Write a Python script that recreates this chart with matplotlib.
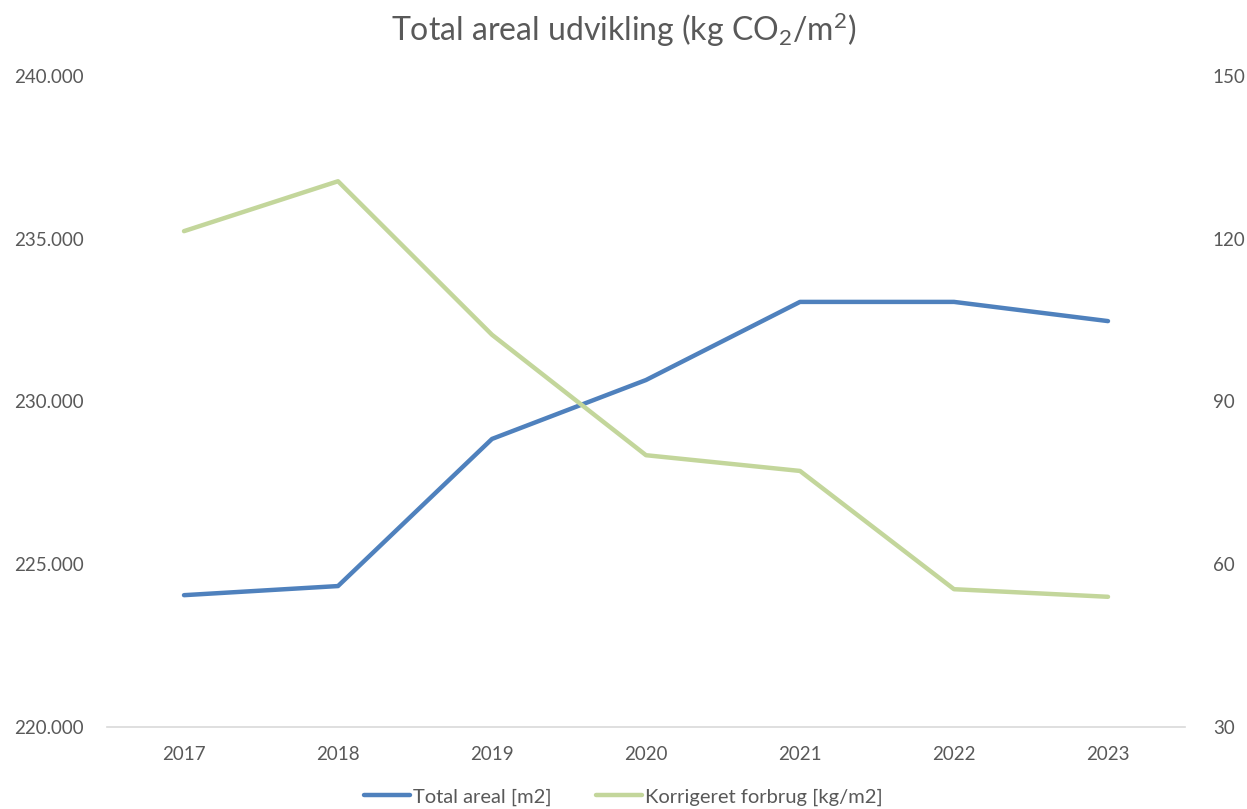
import matplotlib.pyplot as plt
from matplotlib.ticker import FuncFormatter

plt.rcParams['font.family'] = ['Lato', 'DejaVu Sans']
plt.rcParams['mathtext.fontset'] = 'custom'
plt.rcParams['mathtext.rm'] = 'Lato'
plt.rcParams['mathtext.it'] = 'Lato'

years = ['2017', '2018', '2019', '2020', '2021', '2022', '2023']
total_areal = [224050, 224330, 228850, 230660, 233060, 233060, 232470]
korrigeret_forbrug = [121.4, 130.6, 102.3, 80.1, 77.2, 55.4, 54.0]

blue = '#4F81BD'
green = '#C3D69B'
grey = '#595959'

fig = plt.figure(figsize=(12.47, 8.09), dpi=100)
ax = fig.add_axes([107 / 1247, 1 - 727 / 809, (1185 - 107) / 1247, (727 - 76) / 809])
ax2 = ax.twinx()

x = list(range(len(years)))
l1, = ax.plot(x, total_areal, color=blue, lw=3.2, solid_capstyle='round', label='Total areal [m2]')
l2, = ax2.plot(x, korrigeret_forbrug, color=green, lw=3.2, solid_capstyle='round',
               label='Korrigeret forbrug [kg/m2]')

ax.set_xlim(-0.5, 6.5)
ax.set_ylim(220000, 240000)
ax.set_yticks([220000, 225000, 230000, 235000, 240000])
ax.yaxis.set_major_formatter(FuncFormatter(lambda v, p: f"{v:,.0f}".replace(',', '.')))
ax2.set_ylim(30, 150)
ax2.set_yticks([30, 60, 90, 120, 150])
ax.set_xticks(x)
ax.set_xticklabels(years)

for a in (ax, ax2):
    for s in a.spines.values():
        s.set_visible(False)
    a.tick_params(length=0, labelsize=13.5, colors=grey)
ax.spines['bottom'].set_visible(True)
ax.spines['bottom'].set_color('#D9D9D9')
ax.spines['bottom'].set_linewidth(1.2)
ax.tick_params(axis='y', pad=17)
ax2.tick_params(axis='y', pad=20)
ax.tick_params(axis='x', pad=14)

fig.text(0.5, 1 - 30 / 809, r'Total areal udvikling (kg CO$_2$/m$^2$)', ha='center', va='center',
         fontsize=23, color=grey)

fig.legend(handles=[l1, l2], loc='center', bbox_to_anchor=(0.5, 1 - 797 / 809), ncol=2,
           frameon=False, fontsize=14.5, labelcolor=grey, handlelength=2.3, handletextpad=0.15,
           columnspacing=2.2)

fig.savefig('out.png', dpi=100)
